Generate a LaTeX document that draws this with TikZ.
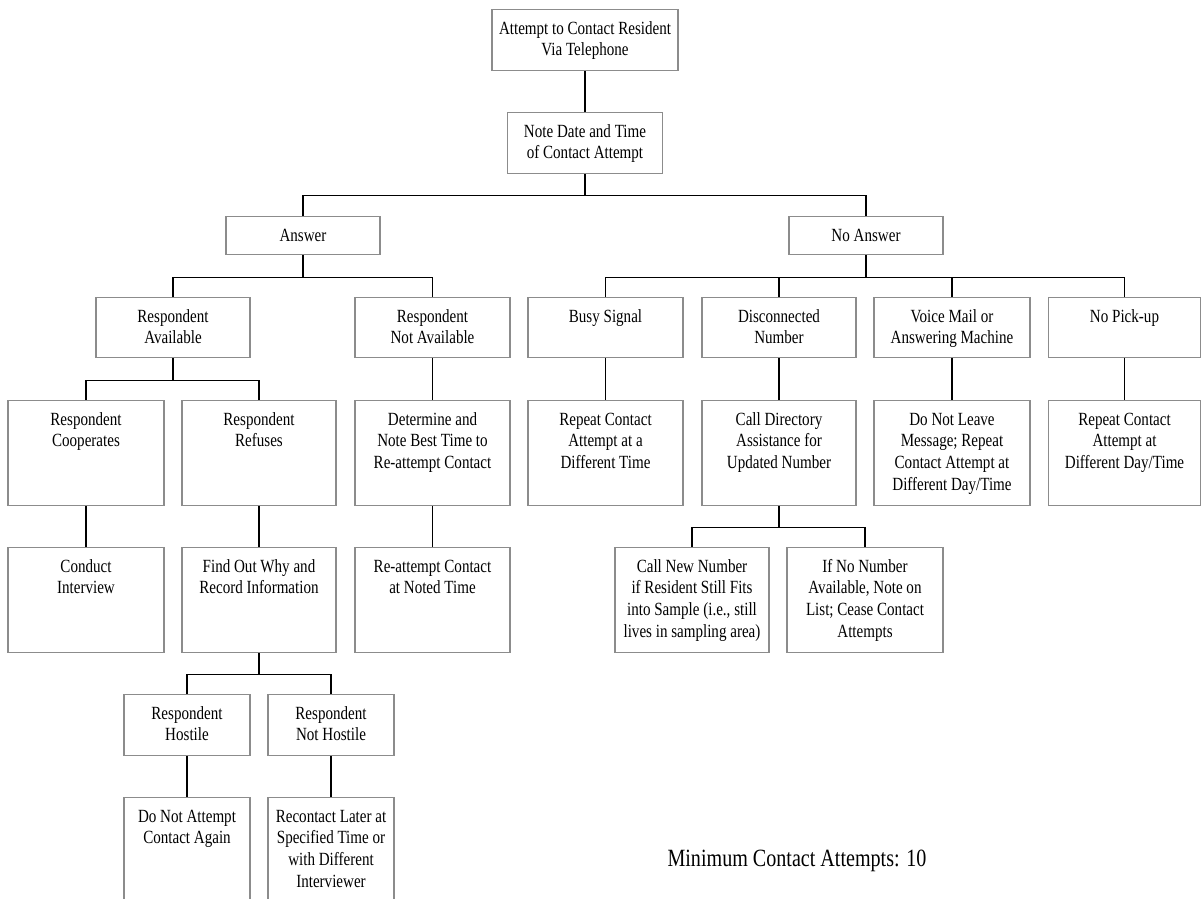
\documentclass[tikz,border=0pt]{standalone}
\usepackage{fontspec}
\setmainfont{Liberation Serif}[FakeStretch=0.81]
\usepackage{tikz}

\newcommand{\normaltext}{\fontsize{18.6pt}{21.7pt}\selectfont}
\newcommand{\bigtext}{\fontsize{24.8pt}{29pt}\selectfont}
% width, height, lines
\newcommand{\boxtext}[3]{\parbox[t][#2pt][t]{#1pt}{\centering\rule{0pt}{24.5pt}#3}}

\begin{document}
\begin{tikzpicture}[x=1pt,y=-1pt,line width=1.1pt,
    box/.style={draw=black!45,line width=1.2pt,inner sep=0pt,anchor=north,font=\normaltext},
    elbow/.style={to path={-- ++(0,#1) -| (\tikztotarget)}}]
    \clip (0,0) rectangle (1202,899);

    \node[box] (top) at (585,9) {\boxtext{186}{61}{Attempt to Contact Resident\\Via Telephone}};
    \node[box] (note) at (585,112) {\boxtext{155}{61}{Note Date and Time\\of Contact Attempt}};

    \node[box] (ans) at (303,216) {\boxtext{154}{38}{Answer}};
    \node[box] (noans) at (866,216) {\boxtext{154}{38}{No Answer}};

    \node[box] (avail) at (173,297) {\boxtext{154}{60}{Respondent\\Available}};
    \node[box] (notavail) at (432.5,297) {\boxtext{155}{60}{Respondent\\Not Available}};
    \node[box] (busy) at (605.5,297) {\boxtext{155}{60}{Busy Signal}};
    \node[box] (disc) at (779,297) {\boxtext{154}{60}{Disconnected\\Number}};
    \node[box] (voice) at (952,297) {\boxtext{156}{60}{Voice Mail or\\Answering Machine}};
    \node[box] (nopick) at (1124.5,297) {\boxtext{152}{60}{No Pick-up}};

    \node[box] (coop) at (86,400) {\boxtext{156}{105}{Respondent\\Cooperates}};
    \node[box] (refuse) at (259,400) {\boxtext{154}{105}{Respondent\\Refuses}};
    \node[box] (besttime) at (432.5,400) {\boxtext{155}{105}{Determine and\\Note Best Time to\\Re-attempt Contact}};
    \node[box] (repeatA) at (605.5,400) {\boxtext{155}{105}{Repeat Contact\\Attempt at a\\Different Time}};
    \node[box] (directory) at (779,400) {\boxtext{154}{105}{Call Directory\\Assistance for\\Updated Number}};
    \node[box] (leave) at (952,400) {\boxtext{156}{105}{Do Not Leave\\Message; Repeat\\Contact Attempt at\\Different Day/Time}};
    \node[box] (repeatB) at (1124.5,400) {\boxtext{152}{105}{Repeat Contact\\Attempt at\\Different Day/Time}};

    \node[box] (interview) at (86,547) {\boxtext{156}{105}{Conduct\\Interview}};
    \node[box] (findout) at (259,547) {\boxtext{154}{105}{Find Out Why and\\Record Information}};
    \node[box] (reattempt) at (432.5,547) {\boxtext{155}{105}{Re-attempt Contact\\at Noted Time}};
    \node[box] (callnew) at (692,547) {\boxtext{154}{105}{Call New Number\\if Resident Still Fits\\into Sample (i.e., still\\lives in sampling area)}};
    \node[box] (nonumber) at (865,547) {\boxtext{156}{105}{If No Number\\Available, Note on\\List; Cease Contact\\Attempts}};

    \node[box] (hostile) at (187,694) {\boxtext{126}{61}{Respondent\\Hostile}};
    \node[box] (nothostile) at (331,694) {\boxtext{126}{61}{Respondent\\Not Hostile}};
    \node[box] (noagain) at (187,797) {\boxtext{126}{112}{Do Not Attempt\\Contact Again}};
    \node[box] (recontact) at (331,797) {\boxtext{126}{112}{Recontact Later at\\Specified Time or\\with Different\\Interviewer}};

    \node[anchor=base,font=\bigtext] (minimum) at (797,866) {Minimum Contact Attempts: 10};

    % branches
    \path (note.south) edge[elbow=21] (ans.north) edge[elbow=21] (noans.north);
    \path (ans.south) edge[elbow=22] (avail.north) edge[elbow=22] (notavail.north);
    \path (noans.south) edge[elbow=22] (busy.north) edge[elbow=22] (disc.north)
        edge[elbow=22] (voice.north) edge[elbow=22] (nopick.north);
    \path (avail.south) edge[elbow=22] (coop.north) edge[elbow=22] (refuse.north);
    \path (directory.south) edge[elbow=21] (callnew.north) edge[elbow=21] (nonumber.north);
    \path (findout.south) edge[elbow=21] (hostile.north) edge[elbow=21] (nothostile.north);

    % straight links
    \path
        (top) edge (note)
        (notavail) edge (besttime)
        (busy) edge (repeatA)
        (disc) edge (directory)
        (voice) edge (leave)
        (nopick) edge (repeatB)
        (coop) edge (interview)
        (refuse) edge (findout)
        (besttime) edge (reattempt)
        (hostile) edge (noagain)
        (nothostile) edge (recontact)
    ;
\end{tikzpicture}
\end{document}
